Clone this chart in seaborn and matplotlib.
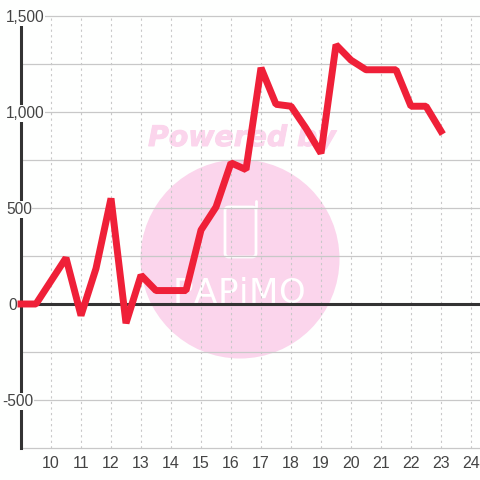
import matplotlib
matplotlib.use("Agg")
import matplotlib.pyplot as plt
import matplotlib.patheffects as pe
from matplotlib.patches import Circle, FancyBboxPatch
from matplotlib.lines import Line2D
import pandas as pd
import seaborn as sns

hours = [9, 9.5, 10, 10.5, 11, 11.5, 12, 12.5, 13, 13.5, 14, 14.5, 15, 15.5, 16,
         16.5, 17, 17.5, 18, 18.5, 19, 19.5, 20, 20.5, 21, 21.5, 22, 22.5, 23]
values = [0, 0, 120, 240, -60, 185, 550, -100, 150, 70, 70, 70, 385, 505, 735,
          700, 1230, 1040, 1030, 915, 785, 1350, 1270, 1220, 1220, 1220, 1030, 1030, 900]
x_ticks = list(range(10, 25))
y_ticks = [-500, 0, 500, 1000, 1500]
y_grid = [-750, -500, -250, 0, 250, 500, 750, 1000, 1250, 1500]

RED = "#ef2038"
DARK = "#333333"
PINK = "#fbd5ec"
GRID = "#c8c8c8"
TEXT = "#444444"
BG = "#fefffe"

sns.set_theme(style="white")
plt.rcParams["font.family"] = ["Liberation Sans", "DejaVu Sans"]

df = pd.DataFrame({"hour": hours, "value": values})

fig = plt.figure(figsize=(4.8, 4.8), dpi=100, facecolor=BG)
ax = fig.add_axes([21 / 480, 32 / 480, 459 / 480, 432 / 480])
ax.patch.set_alpha(0)
ax.set_zorder(2)


def px(x, y):
    return x / 480, 1 - y / 480


# watermark sits behind the axes
cx, cy = px(240, 259)
fig.add_artist(Circle((cx, cy), 99.5 / 480, color=PINK, lw=0, transform=fig.transFigure, zorder=0))
fig.text(*px(242, 146), "Powered by", color=PINK, family="DejaVu Sans", weight="bold",
         style="oblique", fontsize=20.4, ha="center", va="baseline", zorder=0,
         path_effects=[pe.withStroke(linewidth=0.7, foreground=PINK)])
x0, y0 = px(225, 257)
fig.add_artist(FancyBboxPatch((x0, y0), 31 / 480, 50 / 480, boxstyle="round,pad=0,rounding_size=0.008",
                              fc="none", ec="white", lw=2, transform=fig.transFigure, zorder=0))
fig.add_artist(Line2D([px(256, 0)[0]] * 2, [px(0, 208)[1], px(0, 201)[1]], color="white", lw=2,
                      solid_capstyle="round", zorder=0))
for letter, lx in zip("PAPiMO", [182.5, 205, 227.5, 243, 263, 291.5]):
    fig.text(*px(lx, 303), letter, color="white", family="DejaVu Sans",
             fontsize=24.5, ha="center", va="baseline", zorder=0)

ax.set_xlim(9, 24.3)
ax.set_ylim(-750, 1500)
ax.set_xticks(x_ticks)
ax.set_yticks(y_grid)
ax.set_yticklabels([])
ax.grid(False)
for y in y_grid:
    ax.axhline(y, color=GRID, lw=0.9, zorder=1, clip_on=False)
for x in x_ticks:
    ax.axvline(x, color=GRID, lw=0.8, ls=(0, (2, 3)), zorder=1)
ax.axhline(0, color=DARK, lw=2.2, zorder=2)

sns.lineplot(data=df, x="hour", y="value", ax=ax, color=RED, lw=5, zorder=3, clip_on=False,
             solid_capstyle="projecting", solid_joinstyle="bevel")
ax.set_xlabel("")
ax.set_ylabel("")

for side in ["top", "right", "bottom"]:
    ax.spines[side].set_visible(False)
ax.spines["left"].set_color(DARK)
ax.spines["left"].set_linewidth(2.2)
ax.spines["left"].set_zorder(2)
ax.tick_params(axis="both", length=0)
ax.tick_params(axis="x", labelsize=11.5, labelcolor=TEXT, pad=6)

# labels start at slightly different offsets in the original
label_x = {-500: -19, 0: -13}
for y in y_ticks:
    ax.annotate(f"{y:,}", xy=(0, y), xycoords=("axes fraction", "data"), xytext=(label_x.get(y, -15), -1.5),
                textcoords="offset pixels", ha="left", va="center", fontsize=11.2, color=TEXT,
                annotation_clip=False, zorder=2.5,
                bbox=dict(fc=BG, ec="none", pad=0.5))

fig.savefig("out.png", dpi=100, facecolor=BG)
